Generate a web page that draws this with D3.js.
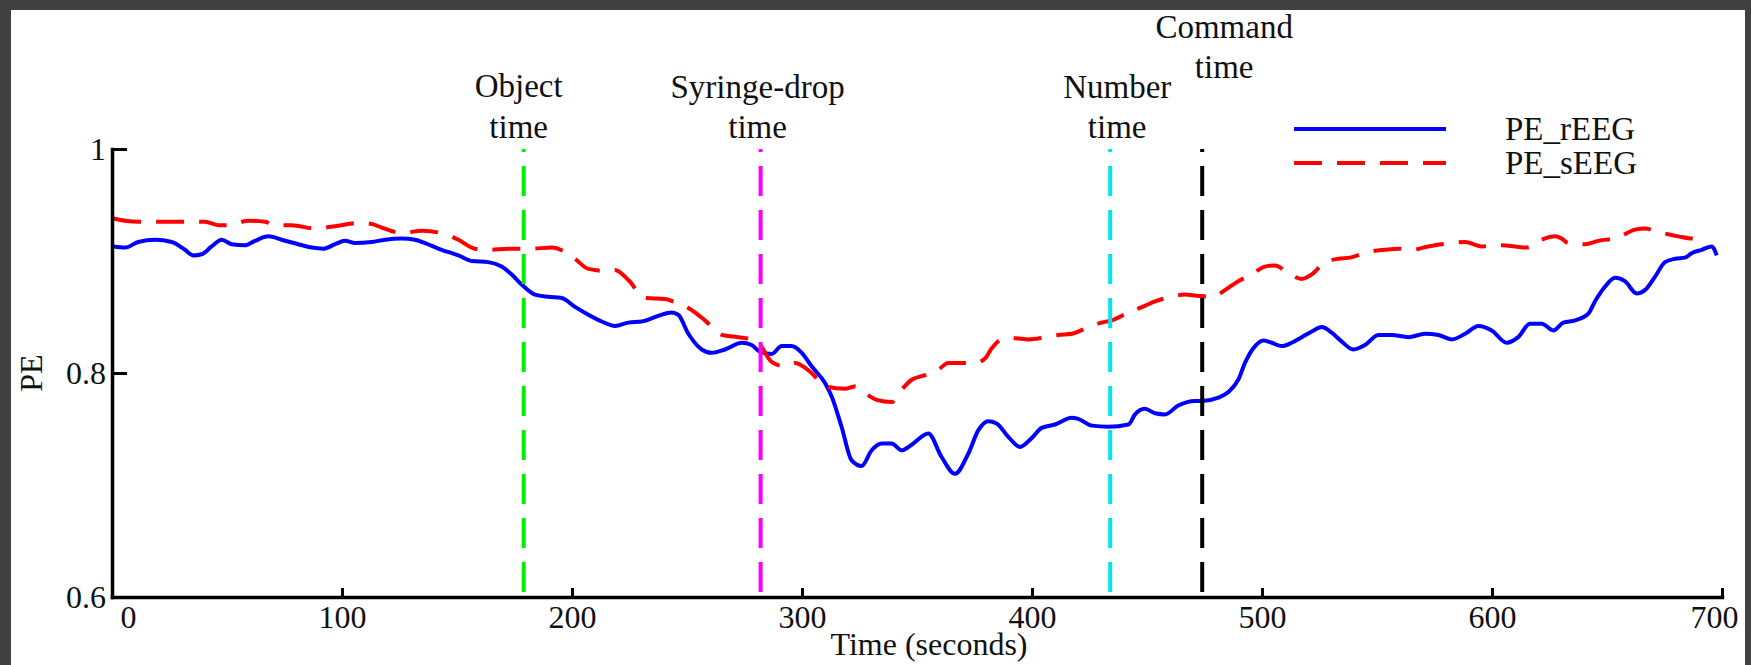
<!DOCTYPE html>
<html>
<head>
<meta charset="utf-8">
<script src="https://d3js.org/d3.v7.min.js"></script>
<style>
    body {
        margin: 0;
        background-color: #414141;
    }

    svg {
        display: block;
    }

    text {
        font-family: "Liberation Serif", "Times New Roman", serif;
        fill: #111;
    }
</style>
</head>
<body>
<svg></svg>
<script>
    // PE_rEEG (solid blue)
    const timeR = [0.6, 5.7, 11.4, 18.7, 26, 31.7, 35.4, 39, 43.3, 47.7, 52, 57.8, 62.2, 68, 73.8, 81, 86.8, 91.9, 97, 101.3,
        105.7, 112.9, 118.7, 126, 131.7, 136.1, 143.3, 150.6, 156.4, 163.6, 169.4, 173.8, 178.1, 183.9, 189.7, 195.5, 201.3,
        207.1, 212.9, 218.7, 224.5, 230.3, 237.5, 243.3, 246.2, 250.6, 256.4, 260.7, 266.5, 273.8, 278.1, 281.7, 286.8, 291.2,
        295.5, 299.9, 304.2, 310, 312.9, 317.2, 321.6, 325.9, 330.3, 334.6, 339, 343.3, 347.7, 354.9, 360.7, 366.5, 372.3,
        376.7, 381, 384.6, 389.7, 394.8, 399.9, 404.2, 410, 417.3, 420.1, 426, 433.2, 441.9, 444.8, 449.1, 453.5, 457.8, 463.6,
        470.9, 473.8, 481, 485.4, 489.7, 492.6, 497, 500.6, 504.2, 508.6, 512.9, 517.3, 521.6, 526, 530.3, 534.7, 539.7, 544.8,
        550.6, 556.4, 563.6, 570.9, 576.7, 582.5, 588.3, 594.1, 599.9, 606.4, 611.4, 616.5, 621.6, 626.7, 631, 636.1, 641.9,
        644.8, 649.1, 653.5, 657.8, 662.9, 666.5, 670.9, 675.2, 679.6, 683.9, 686.8, 691.2, 695.5, 697.7];
    const peR = [0.913, 0.912, 0.917, 0.919, 0.917, 0.910, 0.905, 0.906, 0.913, 0.919, 0.915, 0.914, 0.918, 0.922, 0.919, 0.915,
        0.912, 0.911, 0.915, 0.918, 0.916, 0.917, 0.919, 0.920, 0.919, 0.916, 0.910, 0.905, 0.900, 0.899, 0.895, 0.888, 0.879,
        0.870, 0.868, 0.867, 0.859, 0.852, 0.846, 0.842, 0.845, 0.846, 0.851, 0.854, 0.852, 0.835, 0.821, 0.818, 0.821, 0.827,
        0.825, 0.819, 0.817, 0.824, 0.824, 0.818, 0.806, 0.791, 0.779, 0.752, 0.722, 0.717, 0.731, 0.737, 0.737, 0.731, 0.736,
        0.746, 0.725, 0.710, 0.728, 0.749, 0.757, 0.755, 0.743, 0.734, 0.742, 0.751, 0.754, 0.760, 0.759, 0.753, 0.752, 0.754,
        0.763, 0.768, 0.764, 0.763, 0.771, 0.775, 0.775, 0.778, 0.783, 0.794, 0.809, 0.824, 0.829, 0.827, 0.824, 0.827, 0.832,
        0.837, 0.841, 0.836, 0.828, 0.821, 0.825, 0.834, 0.834, 0.832, 0.835, 0.834, 0.830, 0.835, 0.842, 0.838, 0.827, 0.832,
        0.844, 0.844, 0.838, 0.845, 0.847, 0.853, 0.864, 0.877, 0.885, 0.882, 0.871, 0.874, 0.886, 0.899, 0.902, 0.903, 0.907,
        0.910, 0.913, 0.905];

    // PE_sEEG (dashed red)
    const timeS = [0.6, 5.7, 11.4, 18.7, 31.7, 40.4, 46.2, 50.6, 59.3, 66.5, 70.9, 78.1, 88.3, 97, 107.1, 112.9, 117, 126,
        134.7, 144.8, 150.6, 157.8, 163.6, 172.3, 182.5, 191.2, 197, 201.3, 207.1, 215.8, 218.7, 224.5, 231.7, 240.4, 246.2,
        250.6, 257.8, 265.1, 272.3, 278.1, 281.7, 286.8, 292.6, 297, 304.2, 310, 318.7, 323, 327.4, 332.5, 339, 343.3, 347.7,
        353.5, 359.3, 363.6, 369.4, 375.2, 379.6, 382.5, 386.8, 392.6, 398.4, 405.7, 411.4, 417.3, 424.5, 430.3, 434.7, 441.9,
        449.1, 453.5, 460.7, 466.5, 471.6, 478.8, 483.9, 489.7, 495.5, 501.3, 505.7, 511.4, 517.3, 521.6, 527.4, 533.2, 538.3,
        546.2, 553.5, 559.3, 565.1, 572.3, 578.1, 582.5, 588.3, 595.5, 604.2, 610, 615.1, 621.6, 627.4, 630.3, 633.2, 640.4,
        646.2, 654.9, 662.2, 666.5, 672.3, 681, 688.3, 691.9];
    const peS = [0.938, 0.936, 0.935, 0.935, 0.935, 0.935, 0.932, 0.932, 0.936, 0.935, 0.932, 0.932, 0.929, 0.931, 0.934, 0.933,
        0.930, 0.925, 0.927, 0.924, 0.919, 0.911, 0.910, 0.911, 0.911, 0.912, 0.908, 0.902, 0.893, 0.891, 0.892, 0.883, 0.867,
        0.866, 0.862, 0.858, 0.847, 0.834, 0.832, 0.830, 0.825, 0.810, 0.806, 0.809, 0.800, 0.788, 0.786, 0.788, 0.782, 0.776,
        0.774, 0.785, 0.794, 0.798, 0.803, 0.809, 0.809, 0.809, 0.813, 0.822, 0.830, 0.831, 0.830, 0.832, 0.834, 0.835, 0.841,
        0.845, 0.847, 0.854, 0.860, 0.864, 0.868, 0.870, 0.869, 0.868, 0.874, 0.882, 0.888, 0.895, 0.896, 0.889, 0.884, 0.888,
        0.899, 0.902, 0.903, 0.908, 0.910, 0.911, 0.910, 0.913, 0.915, 0.916, 0.917, 0.913, 0.914, 0.913, 0.912, 0.919, 0.922,
        0.920, 0.916, 0.915, 0.918, 0.921, 0.928, 0.929, 0.926, 0.922, 0.920, 0.921];

    const seriesNames = ["PE_rEEG", "PE_sEEG"];

    // event markers
    const eventTimes = [179, 282, 434, 474];
    const eventLabels = [["Object", "time"], ["Syringe-drop", "time"], ["Number", "time"], ["Command", "time"]];

    const xTicks = [0, 100, 200, 300, 400, 500, 600, 700];
    const yTicks = [0.6, 0.8, 1];

    function drawChart() {
        let width = 1751;
        let height = 665;
        let svg = d3.select("svg")
            .attr("width", width)
            .attr("height", height);

        // white figure area inside the dark frame
        svg.append("rect")
            .attr("x", 11)
            .attr("y", 10)
            .attr("width", 1734)
            .attr("height", 655)
            .attr("fill", "white");

        let xScale = d3.scaleLinear().domain([0, 700]).range([112, 1722]);
        let yScale = d3.scaleLinear().domain([0.6, 1]).range([597, 149]);

        let seriesColors = ["#0000ff", "#ff0000"];
        let seriesDash = [null, "28,15"];
        let eventColors = ["#00ee00", "#ff00ff", "#00e5ee", "#000000"];
        // label nudges so the text sits like in the figure (Command is raised)
        let labelLayout = [
            {dx: -5, y: [97, 138]},
            {dx: -3, y: [98, 138]},
            {dx: 7, y: [98, 138]},
            {dx: 22, y: [38, 78]}
        ];

        let line = d3.line()
            .x(d => xScale(d[0]))
            .y(d => yScale(d[1]))
            .curve(d3.curveMonotoneX);

        let seriesData = [d3.zip(timeR, peR), d3.zip(timeS, peS)];

        svg.selectAll(".series")
            .data(seriesData)
            .join("path")
            .attr("class", "series")
            .attr("d", line)
            .attr("fill", "none")
            .attr("stroke", (d, i) => seriesColors[i])
            .attr("stroke-width", 4)
            .attr("stroke-linejoin", "round")
            .attr("stroke-dasharray", (d, i) => seriesDash[i]);

        // vertical dashed event lines
        svg.selectAll(".event")
            .data(eventTimes)
            .join("line")
            .attr("class", "event")
            .attr("x1", d => xScale(d))
            .attr("x2", d => xScale(d))
            .attr("y1", yScale(1))
            .attr("y2", yScale(0.6))
            .attr("stroke", (d, i) => eventColors[i])
            .attr("stroke-width", 4)
            .attr("stroke-dasharray", "30,14")
            .attr("stroke-dashoffset", 27);

        eventLabels.forEach((lines, i) => {
            lines.forEach((txt, j) => {
                svg.append("text")
                    .attr("x", xScale(eventTimes[i]) + labelLayout[i].dx)
                    .attr("y", labelLayout[i].y[j])
                    .attr("text-anchor", "middle")
                    .attr("font-size", 33)
                    .text(txt);
            });
        });

        // axes
        svg.append("g")
            .attr("transform", `translate(0,${yScale(0.6)})`)
            .call(d3.axisBottom(xScale)
                .tickValues(xTicks)
                .tickFormat(d3.format("d"))
                .tickSizeInner(-9)
                .tickSizeOuter(0))
            .call(g => g.select(".domain")
                .attr("stroke", "black")
                .attr("stroke-width", 3.5)
                .attr("stroke-linecap", "square"))
            .call(g => g.selectAll(".tick line")
                .attr("stroke", "black")
                .attr("stroke-width", 3))
            .call(g => g.selectAll(".tick text")
                .attr("font-size", 32)
                .attr("y", 31)
                .attr("dy", null)
                .attr("dx", d => d === 0 ? 16 : (d === 700 ? -8 : 0)));

        svg.append("g")
            .attr("transform", `translate(${xScale(0)},0)`)
            .call(d3.axisLeft(yScale)
                .tickValues(yTicks)
                .tickFormat(d => d === 1 ? "1" : d3.format(".1f")(d))
                .tickSizeInner(-15)
                .tickSizeOuter(0)
                .tickPadding(6))
            .call(g => g.select(".domain")
                .attr("stroke", "black")
                .attr("stroke-width", 3.5)
                .attr("stroke-linecap", "square"))
            .call(g => g.selectAll(".tick line")
                .attr("stroke", "black")
                .attr("stroke-width", 3))
            .call(g => g.selectAll(".tick text")
                .attr("font-size", 32)
                .attr("dy", "0.34em"));

        // axis titles
        svg.append("text")
            .attr("x", xScale(350) + 12)
            .attr("y", 655)
            .attr("text-anchor", "middle")
            .attr("font-size", 32)
            .text("Time (seconds)");

        svg.append("text")
            .attr("transform", `translate(42,${yScale(0.8)}) rotate(-90)`)
            .attr("text-anchor", "middle")
            .attr("font-size", 32)
            .text("PE");

        // legend
        let legendY = [129, 163];
        seriesNames.forEach((name, i) => {
            svg.append("line")
                .attr("x1", 1294)
                .attr("x2", 1446)
                .attr("y1", legendY[i])
                .attr("y2", legendY[i])
                .attr("stroke", seriesColors[i])
                .attr("stroke-width", 4)
                .attr("stroke-dasharray", seriesDash[i]);
            svg.append("text")
                .attr("x", 1505)
                .attr("y", legendY[i] + 11)
                .attr("font-size", 33)
                .text(name);
        });
    }
    drawChart();
</script>
</body>
</html>
